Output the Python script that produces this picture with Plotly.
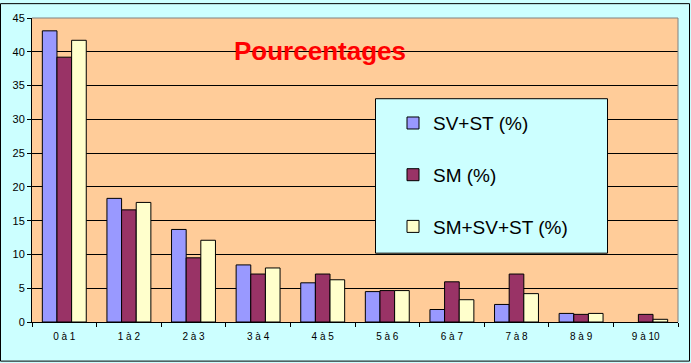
import plotly.graph_objects as go

categories = ["0 à 1", "1 à 2", "2 à 3", "3 à 4", "4 à 5", "5 à 6", "6 à 7", "7 à 8", "8 à 9", "9 à 10"]
sv_st = [43.1, 18.3, 13.7, 8.45, 5.8, 4.5, 1.85, 2.6, 1.27, 0.0]
sm = [39.2, 16.6, 9.5, 7.1, 7.1, 4.65, 5.95, 7.1, 1.13, 1.13]
sm_sv_st = [41.7, 17.7, 12.1, 8.0, 6.25, 4.65, 3.3, 4.2, 1.27, 0.4]

series_names = ["SV+ST (%)", "SM (%)", "SM+SV+ST (%)"]
series_values = [sv_st, sm, sm_sv_st]
colors = ["#9999FF", "#993366", "#FFFFCC"]

W, H = 691, 363
ML, MR, MT, MB = 32, 13, 15, 41
PW, PH = W - ML - MR, H - MT - MB

def px_x(x):
    return (x - ML) / PW

def px_y(y):
    return (H - MB - y) / PH

fig = go.Figure()
for i, (name, vals, col) in enumerate(zip(series_names, series_values, colors)):
    fig.add_trace(go.Bar(
        x=categories, y=vals, name=name, legendgroup=f"g{i}",
        marker=dict(color=col,
                    line=dict(color="black", width=[1 if v > 0 else 0 for v in vals])),
    ))

fig.update_layout(
    width=W, height=H,
    margin=dict(l=ML, r=MR, t=MT, b=MB),
    paper_bgcolor="#CCFFFF",
    plot_bgcolor="#FFCC99",
    barmode="group",
    bargap=0.32,
    bargroupgap=0,
    font=dict(family="Arial, Liberation Sans, sans-serif", color="black"),
    showlegend=True,
    legend=dict(
        x=px_x(393), y=px_y(102), xanchor="left", yanchor="top",
        bgcolor="rgba(0,0,0,0)", borderwidth=0,
        font=dict(size=19, color="black"),
        traceorder="grouped", tracegroupgap=24,
    ),
    xaxis=dict(
        type="category", showline=True, linecolor="black", linewidth=1,
        ticks="outside", ticklen=4, tickcolor="black", tickson="boundaries",
        tickfont=dict(size=10), showgrid=False, zeroline=False,
        ticklabelstandoff=5,
    ),
    yaxis=dict(
        range=[0, 45], dtick=5, showline=True, linecolor="black", linewidth=1,
        ticks="outside", ticklen=4, tickcolor="black",
        showgrid=True, gridcolor="black", gridwidth=1,
        tickfont=dict(size=11), zeroline=False,
    ),
    shapes=[
        dict(type="line", xref="paper", yref="paper", x0=0, x1=1, y0=1, y1=1,
             line=dict(color="#808080", width=1)),
        dict(type="line", xref="paper", yref="paper", x0=1, x1=1, y0=0, y1=1,
             line=dict(color="#808080", width=1)),
        dict(type="rect", xref="paper", yref="paper", layer="above",
             x0=px_x(375.5), x1=px_x(607.5), y0=px_y(252.5), y1=px_y(96.5),
             fillcolor="#CCFFFF", line=dict(color="black", width=1)),
        dict(type="rect", xref="paper", yref="paper",
             x0=px_x(0.5), x1=px_x(W - 1.5), y0=px_y(H - 1.5), y1=px_y(0.5),
             line=dict(color="black", width=1)),
    ],
    annotations=[
        dict(text="<b>Pourcentages</b>", xref="paper", yref="paper",
             x=px_x(320), y=px_y(48), xanchor="center", yanchor="middle",
             showarrow=False, font=dict(size=26, color="#FF0000")),
    ],
)

fig.write_html("out.html", config={"displayModeBar": False},
               post_script="document.body.style.margin='0';document.body.style.overflow='hidden';")
